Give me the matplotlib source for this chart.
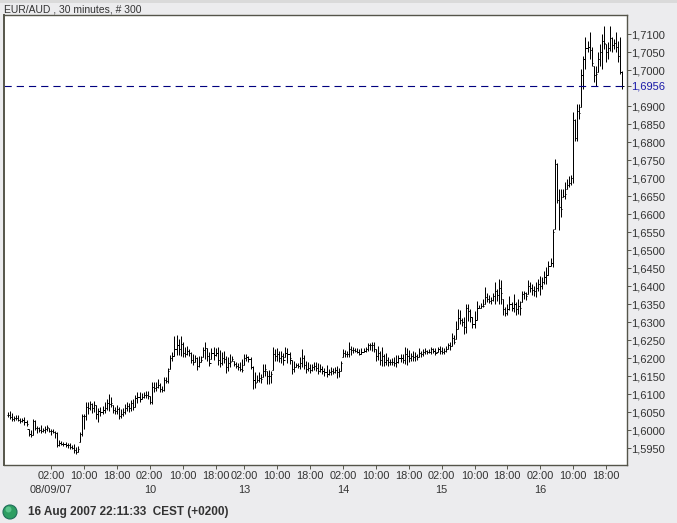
import numpy as np
import matplotlib
matplotlib.use('Agg')
import matplotlib.pyplot as plt
from matplotlib.patches import Circle, Rectangle
from matplotlib.transforms import IdentityTransform

plt.rcParams['font.family'] = ['Liberation Sans', 'DejaVu Sans']

# EUR/AUD 30 minute bars, values in pips (1,6050 = 16050)
highs = [
    16049,16052,16046,16038,16041,16041,16032,16032,16035,16027,
    16002,15999,16030,16027,16011,16008,16014,16005,16011,16014,
    16005,16002,16002,15997,15994,15972,15969,15966,15966,15963,
    15963,15958,15961,15952,15955,15994,16044,16044,16077,16077,
    16080,16074,16080,16069,16061,16064,16066,16077,16085,16100,
    16091,16069,16064,16069,16064,16058,16061,16072,16077,16074,
    16083,16085,16097,16105,16105,16102,16105,16108,16108,16094,
    16133,16133,16133,16141,16130,16122,16147,16147,16172,16208,
    16216,16260,16263,16252,16260,16244,16230,16232,16224,16216,
    16211,16208,16202,16205,16205,16230,16244,16227,16216,16227,
    16230,16227,16230,16222,16216,16219,16205,16202,16211,16205,
    16191,16188,16186,16188,16197,16211,16211,16205,16202,16177,
    16160,16152,16160,16155,16183,16183,16163,16166,16163,16230,
    16224,16227,16219,16219,16213,16230,16227,16216,16194,16191,
    16186,16186,16202,16224,16208,16191,16188,16183,16183,16188,
    16188,16186,16183,16177,16172,16180,16169,16174,16172,16174,
    16177,16172,16191,16224,16222,16219,16244,16232,16230,16227,
    16227,16224,16227,16227,16230,16241,16241,16244,16244,16224,
    16232,16219,16230,16211,16213,16202,16197,16199,16202,16208,
    16208,16211,16211,16230,16227,16222,16213,16219,16216,16211,
    16227,16219,16224,16227,16222,16224,16230,16227,16227,16230,
    16232,16230,16227,16232,16241,16244,16269,16263,16302,16336,
    16333,16311,16313,16349,16349,16336,16313,16330,16358,16347,
    16352,16363,16397,16380,16375,16369,16380,16411,16391,16419,
    16416,16363,16341,16349,16372,16355,16377,16355,16363,16358,
    16386,16386,16383,16416,16411,16405,16400,16411,16419,16427,
    16425,16441,16452,16469,16477,16558,16752,16743,16669,16669,
    16669,16689,16697,16705,16708,16883,16864,16905,16905,17003,
    17039,17092,17080,17105,17064,17011,17011,17050,17072,17100,
    17122,17072,17078,17122,17092,17086,17105,17080,17092,16997,
]
lows = [
    16035,16030,16024,16024,16027,16024,16019,16021,16015,16010,
    15983,15980,15986,16000,15991,15994,15991,15994,15991,15997,
    15994,15986,15991,15977,15953,15955,15958,15955,15952,15949,
    15946,15946,15935,15932,15938,15966,15983,16002,16027,16044,
    16055,16046,16049,16030,16022,16039,16044,16046,16055,16052,
    16064,16046,16044,16044,16030,16033,16039,16044,16052,16049,
    16052,16055,16064,16075,16077,16085,16088,16088,16085,16072,
    16072,16105,16108,16116,16105,16105,16108,16130,16130,16169,
    16191,16205,16208,16208,16205,16202,16202,16208,16205,16186,
    16180,16188,16166,16174,16188,16202,16197,16191,16177,16197,
    16194,16205,16180,16174,16180,16186,16158,16163,16174,16191,
    16177,16172,16166,16163,16161,16180,16191,16188,16169,16113,
    16116,16133,16133,16130,16147,16150,16127,16127,16130,16166,
    16191,16191,16188,16186,16180,16202,16186,16183,16155,16161,
    16174,16172,16169,16174,16169,16158,16163,16158,16163,16166,
    16163,16155,16160,16155,16150,16147,16152,16152,16155,16158,
    16144,16147,16163,16202,16202,16202,16202,16208,16213,16216,
    16213,16208,16211,16216,16216,16219,16222,16219,16216,16191,
    16194,16180,16177,16177,16180,16177,16180,16180,16177,16174,
    16186,16188,16186,16183,16180,16188,16191,16191,16191,16194,
    16202,16202,16205,16211,16211,16213,16211,16213,16208,16216,
    16211,16211,16211,16216,16224,16222,16233,16238,16252,16280,
    16294,16288,16266,16269,16302,16300,16283,16283,16305,16338,
    16338,16341,16350,16355,16352,16350,16358,16350,16358,16350,
    16350,16319,16316,16319,16333,16330,16327,16319,16322,16319,
    16355,16363,16361,16377,16383,16375,16372,16369,16386,16375,
    16391,16405,16405,16430,16455,16452,16558,16630,16555,16591,
    16647,16641,16669,16675,16680,16686,16803,16803,16864,16897,
    16947,17003,17050,17030,17011,16967,16955,16994,17011,17003,
    17058,17022,17030,17053,17050,17058,17050,17022,16989,16947,
]
closes = [
    16041,16036,16030,16032,16033,16029,16024,16028,16022,16016,
    15988,15985,16025,16006,16005,16000,15996,16000,16003,16008,
    15998,15997,15995,15992,15957,15963,15961,15960,15958,15957,
    15952,15950,15945,15938,15948,15990,16038,16040,16065,16060,
    16071,16060,16070,16045,16053,16050,16055,16060,16075,16072,
    16075,16055,16052,16058,16040,16045,16050,16062,16068,16062,
    16075,16065,16090,16092,16085,16093,16096,16098,16094,16078,
    16120,16118,16120,16125,16115,16112,16140,16135,16165,16200,
    16205,16225,16235,16225,16240,16215,16212,16220,16215,16195,
    16188,16200,16178,16190,16195,16222,16228,16205,16185,16215,
    16208,16215,16195,16185,16200,16198,16175,16185,16190,16198,
    16182,16178,16175,16170,16166,16200,16204,16196,16175,16140,
    16130,16140,16145,16142,16165,16170,16150,16150,16155,16210,
    16205,16210,16200,16205,16195,16215,16210,16200,16170,16175,
    16180,16178,16185,16200,16180,16170,16172,16168,16175,16178,
    16172,16165,16170,16165,16160,16155,16160,16165,16162,16168,
    16160,16165,16185,16215,16210,16212,16225,16222,16222,16220,
    16218,16212,16218,16220,16224,16235,16236,16235,16225,16205,
    16215,16195,16205,16190,16195,16190,16188,16190,16186,16190,
    16200,16200,16195,16210,16205,16200,16205,16203,16205,16203,
    16215,16212,16218,16220,16216,16218,16224,16220,16215,16225,
    16220,16218,16220,16225,16235,16232,16255,16245,16280,16310,
    16305,16300,16285,16340,16330,16315,16295,16305,16340,16340,
    16345,16345,16370,16365,16358,16360,16372,16385,16375,16395,
    16380,16335,16325,16335,16350,16340,16350,16335,16345,16338,
    16378,16380,16372,16400,16395,16390,16385,16395,16405,16400,
    16410,16425,16430,16455,16465,16550,16740,16640,16620,16615,
    16650,16655,16680,16685,16700,16860,16810,16885,16880,16985,
    17030,17060,17065,17055,17020,16985,16990,17030,17050,17080,
    17075,17050,17060,17090,17070,17075,17065,17040,16995,16956,
]

last_price = 1.6956
price_ticks = [1.5950, 1.6000, 1.6050, 1.6100, 1.6150, 1.6200, 1.6250, 1.6300, 1.6350,
               1.6400, 1.6450, 1.6500, 1.6550, 1.6600, 1.6650, 1.6700, 1.6750, 1.6800,
               1.6850, 1.6900, 1.7000, 1.7050, 1.7100]
time_tick_bars = [21, 37, 53, 69, 85, 101, 115, 131, 147, 163, 179, 195, 211, 227, 243, 259, 275, 291]
time_labels = ['02:00\n08/09/07', '10:00', '18:00', '02:00\n10', '10:00', '18:00',
               '02:00\n13', '10:00', '18:00', '02:00\n14', '10:00', '18:00',
               '02:00\n15', '10:00', '18:00', '02:00\n16', '10:00', '18:00']

high = np.array(highs) / 10000
low = np.array(lows) / 10000
close = np.array(closes) / 10000
# open of a bar sits at the previous close, kept inside the bar's range
opn = np.clip(np.r_[close[0], close[:-1]], low, high)
bars = np.arange(len(close))

W, H = 677, 523
fig = plt.figure(figsize=(W / 100, H / 100), dpi=100, facecolor='#ECECEE')
ax = fig.add_axes([4 / W, 1 - 465 / H, 623 / W, 450 / H])

ax.vlines(bars, low, high, color='black', lw=0.72)
ax.hlines(opn, bars - 0.55, bars, color='black', lw=0.72)
ax.hlines(close, bars, bars + 0.55, color='black', lw=0.72)
ax.axhline(last_price, color='#00007f', lw=0.8, dashes=(6.5, 4.5))

ax.set_xlim(-1.95, 301.2)
ax.set_ylim(1.59028, 1.71528)

for s in ax.spines.values():
    s.set_color('#55554a')
    s.set_linewidth(1.0)
ax.spines['left'].set_linewidth(1.4)

ax.yaxis.tick_right()
ax.set_yticks(price_ticks + [last_price])
ax.set_yticklabels([f'{p:.4f}'.replace('.', ',') for p in price_ticks] + ['1,6956'])
ax.tick_params(axis='y', labelsize=8, length=3, width=0.7, color='#55554a',
               labelcolor='#333333', pad=0.2)
ax.get_yticklabels()[-1].set_color('#1a1aa8')

ax.set_xticks(time_tick_bars)
ax.set_xticklabels(time_labels, linespacing=1.42)
ax.tick_params(axis='x', labelsize=7.9, length=3, width=0.7, color='#55554a',
               labelcolor='#333333', pad=1.5)

fig.text(4 / W, 1 - 10 / H, 'EUR/AUD , 30 minutes, # 300', fontsize=7.5, color='#333333',
         ha='left', va='center')

# top strip of the window and the status bar light
fig.add_artist(Rectangle((0, H - 3), W, 3, transform=IdentityTransform(), fc='#DADADA', ec='none'))
fig.add_artist(Circle((10, H - 512), 7, transform=IdentityTransform(), fc='#2E9E62', ec='#1F6E5A', lw=0.8))
fig.add_artist(Circle((8.5, H - 509.5), 3, transform=IdentityTransform(), fc='#5CC48C', ec='none'))
fig.text(28 / W, 1 - 512 / H, '16 Aug 2007 22:11:33  CEST (+0200)', fontsize=8.45, fontweight='bold',
         color='#333333', ha='left', va='center')

fig.savefig('out.png', dpi=100, facecolor=fig.get_facecolor())
